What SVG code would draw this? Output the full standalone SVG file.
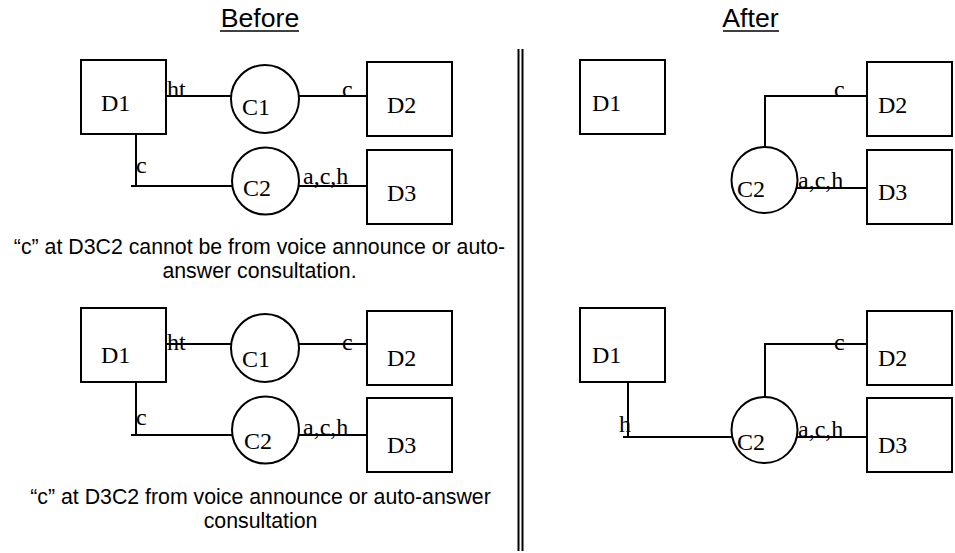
<svg xmlns="http://www.w3.org/2000/svg" width="955" height="553" viewBox="0 0 955 553">
<style>
.box{fill:#fff;stroke:#000;stroke-width:2}
.cir{fill:#fff;stroke:#000;stroke-width:2}
.ln{fill:none;stroke:#000;stroke-width:2}
.nl{font-family:"Liberation Serif","Times New Roman",serif;font-size:24px;fill:#000}
.lb{font-family:"Liberation Serif","Times New Roman",serif;font-size:24px;fill:#000}
.cap{font-family:"Liberation Sans",Arial,sans-serif;font-size:21.3px;fill:#000;text-anchor:middle}
.ttl{font-family:"Liberation Sans",Arial,sans-serif;font-size:26.7px;fill:#000;text-anchor:middle}
.ul{stroke:#000;stroke-width:1.5}
.div{stroke:#000;stroke-width:2}
</style>
<rect width="955" height="553" fill="#fff"/>
<g id="titles">
<text class="ttl" x="260" y="27">Before</text>
<line class="ul" x1="220" y1="31" x2="299" y2="31"/>
<text class="ttl" x="750.5" y="27">After</text>
<line class="ul" x1="723" y1="31" x2="779" y2="31"/>
</g>
<g id="divider">
<line class="div" x1="518.5" y1="49" x2="518.5" y2="551"/>
<line class="div" x1="522.5" y1="49" x2="522.5" y2="551"/>
</g>
<g id="connectors">
<line class="ln" x1="166" y1="96" x2="231" y2="96"/>
<line class="ln" x1="299" y1="96" x2="367" y2="96"/>
<line class="ln" x1="136" y1="134" x2="136" y2="186"/>
<line class="ln" x1="131" y1="186" x2="232" y2="186"/>
<line class="ln" x1="299" y1="186" x2="367" y2="186"/>
<line class="ln" x1="166" y1="344" x2="231" y2="344"/>
<line class="ln" x1="299" y1="344" x2="367" y2="344"/>
<line class="ln" x1="136" y1="383" x2="136" y2="435"/>
<line class="ln" x1="131" y1="435" x2="232" y2="435"/>
<line class="ln" x1="299" y1="435" x2="367" y2="435"/>
<polyline class="ln" points="765,147 765,96 867,96"/>
<line class="ln" x1="797" y1="188" x2="867" y2="188"/>
<line class="ln" x1="628" y1="383" x2="628" y2="437"/>
<line class="ln" x1="623" y1="437" x2="732" y2="437"/>
<polyline class="ln" points="765,397 765,344 867,344"/>
<line class="ln" x1="797" y1="437" x2="867" y2="437"/>
</g>
<g id="tl-D1"><rect class="box" x="81" y="60" width="85" height="74"/><text class="nl" x="101" y="111">D1</text></g>
<g id="tl-C1"><circle class="cir" cx="265" cy="99" r="34"/><text class="nl" x="242" y="115">C1</text></g>
<g id="tl-D2"><rect class="box" x="367" y="62" width="85" height="74"/><text class="nl" x="387" y="113">D2</text></g>
<g id="tl-C2"><circle class="cir" cx="265.5" cy="181" r="33.5"/><text class="nl" x="243" y="196">C2</text></g>
<g id="tl-D3"><rect class="box" x="367" y="150" width="85" height="74"/><text class="nl" x="387" y="201">D3</text></g>
<g id="tl-labels">
<text class="lb" x="167" y="97">ht</text>
<text class="lb" x="342" y="97">c</text>
<text class="lb" x="136" y="173">c</text>
<text class="lb" x="303" y="184">a,c,h</text>
</g>
<text class="cap" x="259.5" y="254">“c” at D3C2 cannot be from voice announce or auto-</text>
<text class="cap" x="259.5" y="278">answer consultation.</text>

<g id="bl-D1"><rect class="box" x="81" y="308" width="85" height="74"/><text class="nl" x="101" y="363">D1</text></g>
<g id="bl-C1"><circle class="cir" cx="265" cy="348" r="34"/><text class="nl" x="242" y="367">C1</text></g>
<g id="bl-D2"><rect class="box" x="367" y="311" width="85" height="74"/><text class="nl" x="387" y="366">D2</text></g>
<g id="bl-C2"><circle class="cir" cx="265.5" cy="430" r="33.5"/><text class="nl" x="244" y="449">C2</text></g>
<g id="bl-D3"><rect class="box" x="367" y="398" width="85" height="74"/><text class="nl" x="387" y="453">D3</text></g>
<g id="bl-labels">
<text class="lb" x="167" y="350">ht</text>
<text class="lb" x="342" y="350">c</text>
<text class="lb" x="136" y="425">c</text>
<text class="lb" x="303" y="435">a,c,h</text>
</g>
<text class="cap" x="260.5" y="504">“c” at D3C2 from voice announce or auto-answer</text>
<text class="cap" x="260.5" y="528">consultation</text>

<g id="tr-D1"><rect class="box" x="580" y="60" width="85" height="74"/><text class="nl" x="592" y="111">D1</text></g>
<g id="tr-D2"><rect class="box" x="867" y="62" width="85" height="74"/><text class="nl" x="878" y="113">D2</text></g>
<g id="tr-C2"><circle class="cir" cx="764.5" cy="180" r="33"/><text class="nl" x="737" y="197">C2</text></g>
<g id="tr-D3"><rect class="box" x="867" y="150" width="85" height="74"/><text class="nl" x="878" y="200">D3</text></g>
<g id="tr-labels">
<text class="lb" x="834" y="97">c</text>
<text class="lb" x="798" y="188">a,c,h</text>
</g>

<g id="br-D1"><rect class="box" x="580" y="308" width="85" height="74"/><text class="nl" x="592" y="363">D1</text></g>
<g id="br-D2"><rect class="box" x="867" y="311" width="85" height="74"/><text class="nl" x="878" y="366">D2</text></g>
<g id="br-C2"><circle class="cir" cx="764.5" cy="430" r="33"/><text class="nl" x="737" y="450">C2</text></g>
<g id="br-D3"><rect class="box" x="867" y="398" width="85" height="74"/><text class="nl" x="878" y="453">D3</text></g>
<g id="br-labels">
<text class="lb" x="619" y="432">h</text>
<text class="lb" x="834" y="350">c</text>
<text class="lb" x="798" y="437">a,c,h</text>
</g>
</svg>
